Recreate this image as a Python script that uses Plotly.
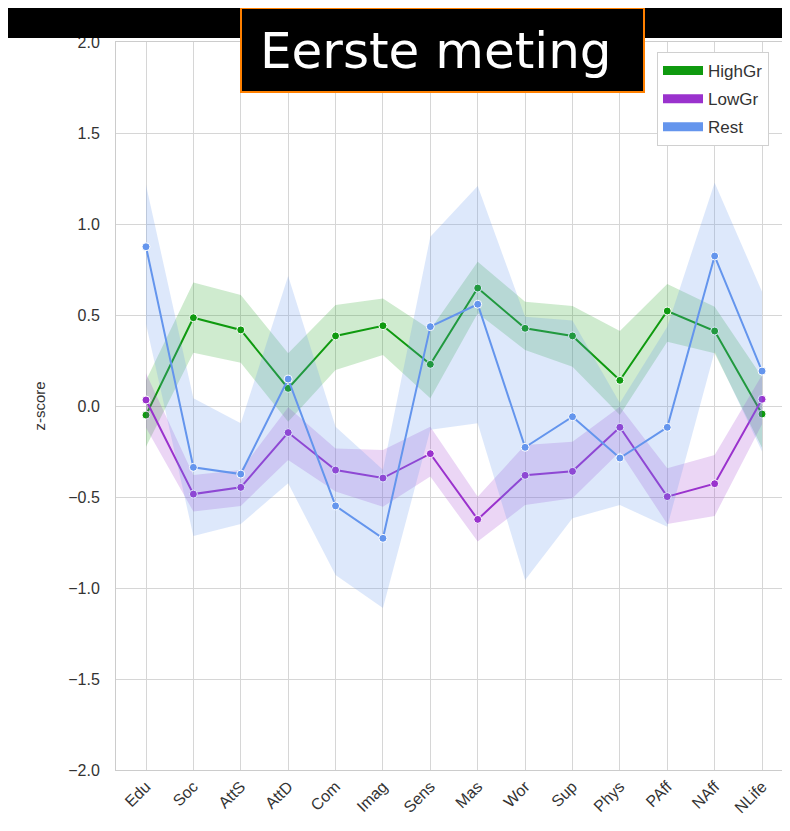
import plotly.graph_objects as go

cats = ["Edu", "Soc", "AttS", "AttD", "Com", "Imag", "Sens", "Mas", "Wor", "Sup", "Phys", "PAff", "NAff", "NLife"]

# mean z-scores per group
high = [-0.05, 0.485, 0.418, 0.097, 0.385, 0.441, 0.229, 0.648, 0.427, 0.385, 0.141, 0.522, 0.412, -0.044]
low = [0.033, -0.484, -0.447, -0.146, -0.352, -0.396, -0.262, -0.623, -0.381, -0.359, -0.117, -0.498, -0.427, 0.037]
rest = [0.875, -0.337, -0.374, 0.148, -0.549, -0.727, 0.436, 0.559, -0.227, -0.059, -0.286, -0.117, 0.824, 0.192]

# confidence bands
high_hi = [0.14, 0.678, 0.61, 0.29, 0.555, 0.59, 0.42, 0.793, 0.573, 0.549, 0.412, 0.67, 0.546, 0.16]
high_lo = [-0.224, 0.293, 0.238, -0.086, 0.198, 0.28, 0.042, 0.51, 0.308, 0.216, -0.049, 0.353, 0.29, -0.23]
low_hi = [0.18, -0.379, -0.352, -0.007, -0.233, -0.242, -0.114, -0.498, -0.214, -0.196, -0.004, -0.342, -0.269, 0.17]
low_lo = [-0.12, -0.58, -0.549, -0.297, -0.47, -0.553, -0.388, -0.745, -0.544, -0.507, -0.251, -0.648, -0.604, -0.1]
rest_hi = [1.214, 0.042, -0.095, 0.714, -0.114, -0.35, 0.93, 1.209, 0.49, 0.47, 0.016, 0.436, 1.227, 0.628]
rest_lo = [0.45, -0.714, -0.648, -0.425, -0.929, -1.11, -0.13, -0.095, -0.956, -0.617, -0.544, -0.663, 0.3, -0.25]

groups = [
    ("HighGr", high, high_hi, high_lo, "#0f9a0f", "rgba(15,154,15,0.2)"),
    ("LowGr", low, low_hi, low_lo, "#9a32cd", "rgba(154,50,205,0.2)"),
    ("Rest", rest, rest_hi, rest_lo, "#6495ed", "rgba(100,149,237,0.22)"),
]

fig = go.Figure()
for name, mean, hi, lo, col, fcol in groups:
    fig.add_trace(go.Scatter(x=cats + cats[::-1], y=hi + lo[::-1], fill="toself",
                             fillcolor=fcol, line=dict(width=0), hoverinfo="skip",
                             showlegend=False))
    fig.add_trace(go.Scatter(x=cats, y=mean, mode="lines+markers", name=name,
                             line=dict(color=col, width=2),
                             marker=dict(size=8, color=col, line=dict(color="white", width=1)),
                             showlegend=False))
    # legend swatch
    fig.add_trace(go.Scatter(x=[None], y=[None], mode="lines", name=name, legendgroup=name,
                             line=dict(color=col, width=9)))

# page coordinates (the page puts the figure at 8,8) -> paper coordinates
def px(x): return (x - 116) / 674
def py(y): return (770 - y) / 728

# black band at the top and the title box
fig.add_shape(type="rect", xref="paper", yref="paper", x0=px(0), x1=px(800), y0=py(38), y1=py(0),
              fillcolor="black", line=dict(width=0), layer="above")
fig.add_shape(type="rect", xref="paper", yref="paper", x0=px(241), x1=px(644), y0=py(92), y1=py(8),
              fillcolor="black", line=dict(color="#ff8000", width=2), layer="above")
fig.add_annotation(text="Eerste meting", xref="paper", yref="paper", x=px(436), y=py(51),
                   showarrow=False, xanchor="center", yanchor="middle",
                   font=dict(family="DejaVu Sans", size=50, color="white"))

fig.update_layout(
    width=782, height=815,
    margin=dict(l=108, r=0, t=34, b=53),
    paper_bgcolor="white", plot_bgcolor="white",
    font=dict(family="Liberation Sans, Arial", color="#333333"),
    legend=dict(x=px(657), y=py(52), xanchor="left", yanchor="top",
                bgcolor="white", bordercolor="#d0d0d0", borderwidth=1, itemwidth=40,
                font=dict(size=17, color="#333333"), tracegroupgap=3),
)
fig.update_xaxes(type="category", categoryorder="array", categoryarray=cats,
                 range=[-0.633, 13.59], tickangle=-45, tickfont=dict(size=16),
                 showgrid=True, gridcolor="#d6d6d6", gridwidth=1.2,
                 showline=True, linecolor="#cccccc", mirror=True, ticks="", zeroline=False)
fig.update_yaxes(range=[-2, 2], dtick=0.5, tickformat=".1f", tickfont=dict(size=16),
                 title=dict(text="z-score", font=dict(size=15), standoff=18),
                 showgrid=True, gridcolor="#d6d6d6", gridwidth=1.2, zeroline=False,
                 showline=True, linecolor="#cccccc", mirror=True, ticklabelstandoff=12)

fig.write_html("out.html")
